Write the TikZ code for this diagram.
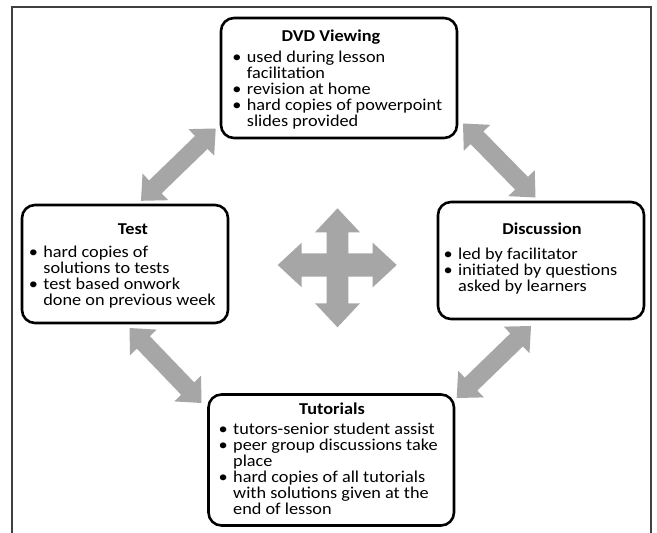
\documentclass[tikz,border=0pt]{standalone}
\usepackage{fontspec}
\setmainfont{Carlito}[FakeStretch=1.1]
\usetikzlibrary{calc}
\definecolor{arrowgray}{RGB}{166,166,166}
\newcommand{\bodyfont}{\fontsize{16.6}{16}\selectfont\lineskiplimit=-30pt\lineskip=0pt}
\newcommand{\bul}{\llap{•\hspace{5.5pt}}}
\newcommand{\firststrut}{\rule{0pt}{13pt}}
% #1 tip A, #2 tip B, #3 half shaft width, #4 half head width, #5 head length
\newcommand{\blockdbl}[5]{%
  \fill[arrowgray] (#1)
   -- ($ ($(#1)!#5!(#2)$) ! #4 ! 90:(#2) $)
   -- ($ ($(#1)!#5!(#2)$) ! #3 ! 90:(#2) $)
   -- ($ ($(#2)!#5!(#1)$) ! #3 ! -90:(#1) $)
   -- ($ ($(#2)!#5!(#1)$) ! #4 ! -90:(#1) $)
   -- (#2)
   -- ($ ($(#2)!#5!(#1)$) ! #4 ! 90:(#1) $)
   -- ($ ($(#2)!#5!(#1)$) ! #3 ! 90:(#1) $)
   -- ($ ($(#1)!#5!(#2)$) ! #3 ! -90:(#2) $)
   -- ($ ($(#1)!#5!(#2)$) ! #4 ! -90:(#2) $)
   -- cycle;}
\begin{document}
\begin{tikzpicture}[x=1pt,y=-1pt,
  box/.style={draw=black, line width=2.6pt, rounded corners=13pt, inner sep=0pt},
  boxtitle/.style={font=\bodyfont\bfseries, anchor=base, inner sep=0pt},
  boxbody/.style={font=\bodyfont, anchor=north west, align=left, inner sep=0pt},
  framestyle/.style={draw=black!75, line width=1.2pt}]
\useasboundingbox (0,0) rectangle (657,533);
\fill[white] (0,0) rectangle (657,533);
% outer frame
\draw[framestyle] (12,533) -- (12,7) -- (651,7) -- (651,533);

% boxes
\node[box, minimum width=236pt, minimum height=120pt] (dvd) at (339,78) {};
\node[box, minimum width=206pt, minimum height=118pt] (test) at (125,264) {};
\node[box, minimum width=206pt, minimum height=117pt] (disc) at (541,260.5) {};
\node[box, minimum width=245.5pt, minimum height=131pt] (tut) at (331.25,460) {};

% titles
\node[boxtitle] (dvdtitle) at (331,41.3) {DVD Viewing};
\node[boxtitle] (testtitle) at (133,234.5) {Test};
\node[boxtitle] (disctitle) at (542,234.5) {Discussion};
\node[boxtitle] (tuttitle) at (332,414.5) {Tutorials};

% bodies
\node[boxbody] (dvdtext) at (246.7,49.7) {\firststrut\bul used during lesson\\facilitation\\\bul revision at home\\\bul hard copies of powerpoint\\slides provided};
\node[boxbody] (testtext) at (43.2,244) {\firststrut\bul hard copies of\\solutions to tests\\\bul test based onwork\\done on previous week};
\node[boxbody] (disctext) at (458,246) {\firststrut\bul led by facilitator\\\bul initiated by questions\\asked by learners};
\node[boxbody] (tuttext) at (233,421.7) {\firststrut\bul tutors-senior student assist\\\bul peer group discussions take\\place\\\bul hard copies of all tutorials\\with solutions given at the\\end of lesson};

% arrow end points
\coordinate (dt1) at (215.7,128.5);
\coordinate (dt2) at (141,200.8);
\coordinate (dd1) at (463,123.5);
\coordinate (dd2) at (535.5,197.5);
\coordinate (tt1) at (129.5,328);
\coordinate (tt2) at (201.5,403);
\coordinate (du1) at (531,326);
\coordinate (du2) at (456.7,398);
\coordinate (crossT) at (337.5,208.3);
\coordinate (crossB) at (337.5,327.3);
\coordinate (crossL) at (277.7,265);
\coordinate (crossR) at (396.7,265);

\blockdbl{dt1}{dt2}{9pt}{18.5pt}{20pt}
\blockdbl{dd1}{dd2}{9pt}{18.5pt}{20pt}
\blockdbl{tt1}{tt2}{9pt}{18.5pt}{20pt}
\blockdbl{du1}{du2}{9pt}{18.5pt}{20pt}
\blockdbl{crossT}{crossB}{10.8pt}{22.5pt}{24pt}
\blockdbl{crossL}{crossR}{11.7pt}{22.3pt}{24pt}
\end{tikzpicture}
\end{document}
